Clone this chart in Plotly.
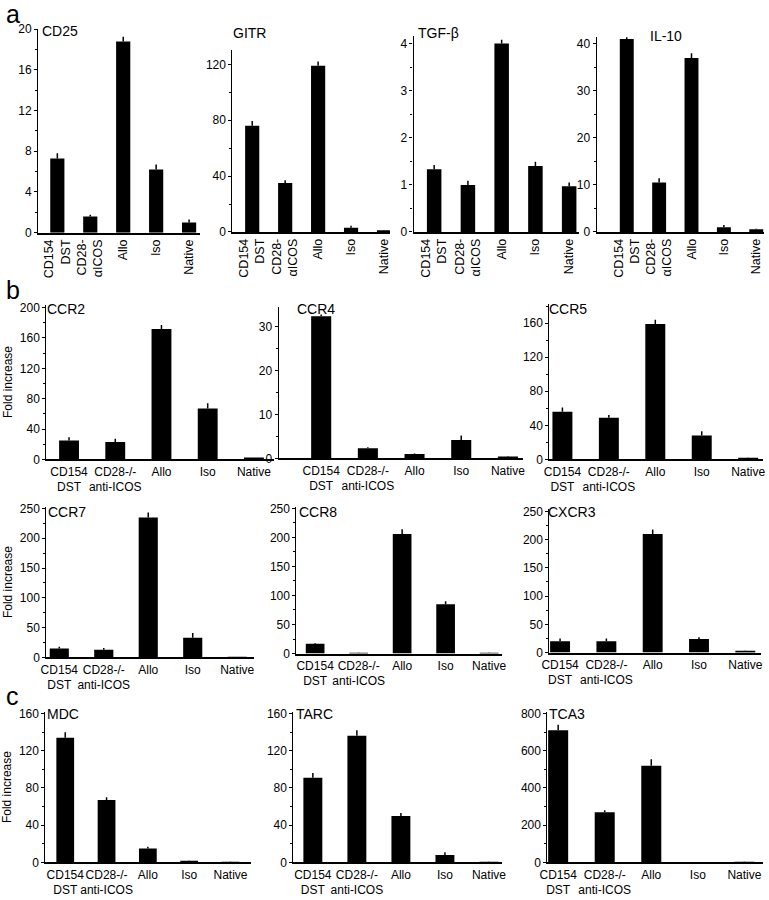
import plotly.graph_objects as go

W, H = 769, 900

categories_a = ["CD154<br>DST", "CD28-<br>αICOS", "Allo", "Iso", "Native"]
categories_bc = ["CD154<br>DST", "CD28-/-<br>anti-ICOS", "Allo", "Iso", "Native"]

cd25 = [7.3, 1.6, 18.8, 6.2, 1.0]
cd25_err = [0.5, 0.15, 0.45, 0.5, 0.3]
gitr = [76, 35, 119, 3, 0.8]
gitr_err = [3.5, 2, 3, 1.5, 0.2]
tgfb = [1.33, 1.0, 4.0, 1.4, 0.97]
tgfb_err = [0.09, 0.09, 0.08, 0.09, 0.08]
il10 = [41, 10.5, 37, 1.0, 0.6]
il10_err = [0.6, 0.9, 1.0, 0.5, 0.1]
ccr2 = [25, 23, 172, 67, 1]
ccr2_err = [4, 4, 5, 7, 0.2]
ccr4 = [32.3, 2.3, 1.0, 4.2, 0.3]
ccr4_err = [0.4, 0.2, 0.1, 1.0, 0.1]
ccr5 = [56, 49, 159, 28, 2]
ccr5_err = [5, 3, 5, 5, 0.3]
ccr7 = [15, 13, 235, 33, 1]
ccr7_err = [3, 3, 8, 8, 0.3]
ccr8 = [17, 1, 206, 85, 1]
ccr8_err = [1, 0.3, 8, 5, 0.2]
cxcr3 = [20, 20, 210, 24, 3]
cxcr3_err = [5, 5, 8, 3, 0.5]
mdc = [134, 67, 15, 1.5, 0.8]
mdc_err = [6, 3, 2, 0.3, 0.2]
tarc = [91, 136, 50, 8, 0.5]
tarc_err = [5, 6, 3, 3, 0.2]
tca3 = [710, 270, 520, 0, 3]
tca3_err = [30, 10, 35, 0, 0.5]

# panel specs: name, values, errs, categories, rotated, y range max, dtick, x px domain, y px domain (top,bottom), x range, title pos, ytitle
panels = [
    ("CD25", cd25, cd25_err, categories_a, True, 20.05, 4, (30.7, 195), (23, 230), (-0.58, 4.33), (37, 25), False),
    ("GITR", gitr, gitr_err, categories_a, True, 130, 40, (228, 388), (45, 229.3), (-0.6, 4.18), (231, 27), False),
    ("TGF-β", tgfb, tgfb_err, categories_a, True, 4.17, 1, (412, 580), (30, 229.3), (-0.61, 4.29), (419, 27), False),
    ("IL-10", il10, il10_err, categories_a, True, 41.4, 10, (598, 768), (31.7, 229.3), (-0.93, 4.24), (654, 30), False),
    ("CCR2", ccr2, ccr2_err, categories_bc, False, 204, 40, (39, 270), (303, 460), (-0.49, 4.43), (42, 307), True),
    ("CCR4", ccr4, ccr4_err, categories_bc, False, 34.5, 10, (275, 523), (305, 459), (-0.91, 4.32), (296, 307), False),
    ("CCR5", ccr5, ccr5_err, categories_bc, False, 183, 40, (550, 767), (302, 460), (-0.28, 4.32), (552, 307), False),
    ("CCR7", ccr7, ccr7_err, categories_bc, False, 253, 50, (39, 250), (508, 661), (-0.29, 4.38), (43, 513), True),
    ("CCR8", ccr8, ccr8_err, categories_bc, False, 253, 50, (293, 502), (508, 657), (-0.43, 4.3), (298, 513), False),
    ("CXCR3", cxcr3, cxcr3_err, categories_bc, False, 255, 50, (550, 765), (510, 656), (-0.23, 4.34), (551, 513), False),
    ("MDC", mdc, mdc_err, categories_bc, False, 162, 40, (38, 247), (716, 869), (-0.48, 4.5), (42, 718), True),
    ("TARC", tarc, tarc_err, categories_bc, False, 162, 40, (290, 502), (716, 869), (-0.44, 4.3), (295, 718), False),
    ("TCA3", tca3, tca3_err, categories_bc, False, 810, 200, (548, 767), (716, 869), (-0.23, 4.4), (552, 718), False),
]

FONT = "Liberation Sans, Arial, Helvetica, sans-serif"
fig = go.Figure()
annotations = []
layout = {}

for i, (name, vals, errs, cats, rot, ymax, dtick, xd, yd, xr, tpos, ytitle) in enumerate(panels):
    n = "" if i == 0 else str(i + 1)
    xa, ya = "x" + n, "y" + n
    fig.add_trace(go.Bar(
        x=list(range(len(cats))), y=vals, xaxis=xa, yaxis=ya,
        marker=dict(color="black", line=dict(width=0)),
        width=0.43,
        error_y=dict(type="data", symmetric=False, array=errs,
                     arrayminus=[0] * len(errs), width=0, thickness=1.5,
                     color="black"),
        showlegend=False, hoverinfo="skip",
    ))
    layout["xaxis" + n] = dict(
        domain=[xd[0] / W, xd[1] / W], anchor=ya, range=list(xr),
        tickmode="array", tickvals=list(range(len(cats))), ticktext=cats,
        tickangle=-90 if rot else 0, ticks="", showline=True,
        linecolor="black", linewidth=1.5, showgrid=False, zeroline=False,
        tickfont=dict(size=12.5 if rot else 12, color="black", family=FONT),
        fixedrange=True,
    )
    ycfg = dict(
        domain=[1 - yd[1] / H, 1 - yd[0] / H], anchor=xa, range=[0, ymax],
        dtick=dtick, tick0=0, ticks="outside", ticklen=3, tickwidth=1,
        tickcolor="black", showline=True, linecolor="black", linewidth=1.2,
        showgrid=False, zeroline=False,
        tickfont=dict(size=12, color="black", family=FONT),
        minor=dict(ticks="outside", ticklen=2, tickcolor="black",
                   dtick=dtick / 2, showgrid=False),
        fixedrange=True,
    )
    if ytitle:
        ycfg["title"] = dict(text="Fold increase", standoff=4,
                             font=dict(size=12, color="black", family=FONT))
    layout["yaxis" + n] = ycfg
    annotations.append(dict(
        text=name, x=tpos[0] / W, y=1 - tpos[1] / H, xref="paper", yref="paper",
        xanchor="left", yanchor="middle", showarrow=False, xshift=-4,
        font=dict(size=14, color="black", family=FONT)))

for letter, lx, ly in [("a", 0, 8), ("b", 0, 288), ("c", 0, 700)]:
    annotations.append(dict(
        text=letter, x=lx / W, y=1 - ly / H, xref="paper", yref="paper",
        xanchor="left", yanchor="middle", showarrow=False, xshift=-4,
        font=dict(size=25, color="black", family=FONT)))

fig.update_layout(
    width=W, height=H, margin=dict(l=0, r=0, t=0, b=0),
    paper_bgcolor="white", plot_bgcolor="white",
    font=dict(family=FONT, color="black"),
    annotations=annotations, bargap=0.55, **layout,
)
fig.write_html("out.html", config={"displayModeBar": False},
               post_script="document.body.style.margin='0';document.body.style.overflow='hidden';")
